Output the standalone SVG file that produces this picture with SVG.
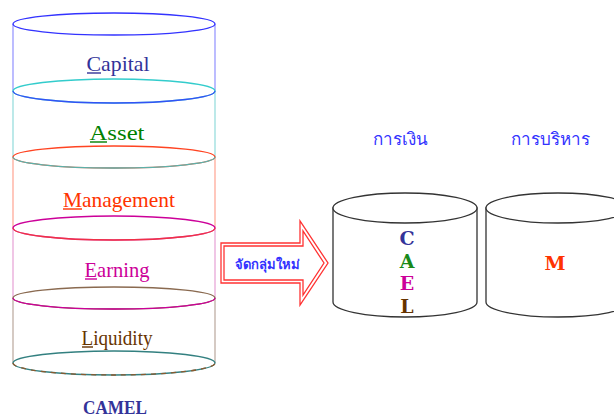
<svg xmlns="http://www.w3.org/2000/svg" width="614" height="418" viewBox="0 0 614 418">
  <style>
    .lbl { font-family: "Liberation Serif", "DejaVu Serif", serif; font-size: 22px; text-anchor: middle; }
    .ul { stroke-width: 1.4; }
    .thai { font-family: "Noto Sans", "DejaVu Sans", sans-serif; fill: #3333ff; text-anchor: middle; }
    .drum { fill: #ffffff; stroke: #333333; stroke-width: 1.3; }
    .ltr { font-family: "DejaVu Serif", "Liberation Serif", serif; font-weight: bold; font-size: 19px; text-anchor: middle; }
    .arrow { fill: none; stroke: #ff3333; stroke-width: 1.3; stroke-linejoin: miter; }
  </style>

  <rect width="614" height="418" fill="#ffffff"/>

  <!-- CAMEL stack: five stacked drum segments -->
  <g id="camel-stack" fill="none" stroke-width="1.3">
    <!-- Capital -->
    <g id="seg-capital">
      <line x1="13" y1="24" x2="13" y2="91" stroke="#9999ff"/>
      <line x1="215" y1="24" x2="215" y2="91" stroke="#9999ff"/>
      <ellipse cx="114" cy="24" rx="101" ry="11" stroke="#3333ff"/>
    </g>
    <!-- Asset -->
    <g id="seg-asset">
      <line x1="13" y1="91" x2="13" y2="157" stroke="#99dddd"/>
      <line x1="215" y1="91" x2="215" y2="157" stroke="#99dddd"/>
      <ellipse cx="114" cy="91" rx="101" ry="12" stroke="#33cccc"/>
      <path d="M13 91 A101 12 0 0 0 215 91" stroke="#3333ff" stroke-opacity="0.8"/>
    </g>
    <!-- Management -->
    <g id="seg-management">
      <line x1="13" y1="157" x2="13" y2="228" stroke="#ffaa99"/>
      <line x1="215" y1="157" x2="215" y2="228" stroke="#ffaa99"/>
      <ellipse cx="114" cy="157" rx="101" ry="11" stroke="#ff4422"/>
      <path d="M13 157 A101 11 0 0 0 215 157" stroke="#33cccc" stroke-opacity="0.8"/>
    </g>
    <!-- Earning -->
    <g id="seg-earning">
      <line x1="13" y1="228" x2="13" y2="298" stroke="#e8a8d8"/>
      <line x1="215" y1="228" x2="215" y2="298" stroke="#e8a8d8"/>
      <ellipse cx="114" cy="228" rx="101" ry="12" stroke="#cc0099"/>
      <path d="M13 228 A101 12 0 0 0 215 228" stroke="#ff4422" stroke-opacity="0.7"/>
    </g>
    <!-- Liquidity -->
    <g id="seg-liquidity">
      <line x1="13" y1="298" x2="13" y2="363" stroke="#bfaea4"/>
      <line x1="215" y1="298" x2="215" y2="363" stroke="#bfaea4"/>
      <ellipse cx="114" cy="298" rx="101" ry="11" stroke="#8a6a50"/>
      <path d="M13 298 A101 11 0 0 0 215 298" stroke="#cc0099"/>
      <ellipse cx="114" cy="363" rx="101" ry="12" stroke="#338080"/>
      <path d="M13 363 A101 12 0 0 0 215 363" stroke="#8a5a30" stroke-dasharray="5 5"/>
    </g>
  </g>

  <!-- segment labels; the initial letter of each carries an underline -->
  <g id="stack-labels" class="lbl">
    <text x="118" y="71" fill="#333399" textLength="63" lengthAdjust="spacingAndGlyphs">Capital</text>
    <line class="ul" x1="87" y1="73" x2="101" y2="73" stroke="#333399"/>
    <text x="117" y="140" fill="#008000" textLength="55" lengthAdjust="spacingAndGlyphs">Asset</text>
    <line class="ul" x1="90" y1="142" x2="107" y2="142" stroke="#008000"/>
    <text x="119" y="207" fill="#ff3300" textLength="112" lengthAdjust="spacingAndGlyphs">Management</text>
    <line class="ul" x1="63" y1="209" x2="82" y2="209" stroke="#ff3300"/>
    <text x="117" y="277" fill="#cc0099" textLength="65" lengthAdjust="spacingAndGlyphs">Earning</text>
    <line class="ul" x1="85" y1="279" x2="97" y2="279" stroke="#cc0099"/>
    <text x="117" y="345" fill="#663300" textLength="71" lengthAdjust="spacingAndGlyphs">Liquidity</text>
    <line class="ul" x1="82" y1="347" x2="93" y2="347" stroke="#663300"/>
    <text x="115" y="414" fill="#333399" font-weight="bold" font-size="18" textLength="64" lengthAdjust="spacingAndGlyphs">CAMEL</text>
  </g>

  <!-- regroup arrow (double outline) -->
  <g id="regroup-arrow">
    <polygon class="arrow" points="221,243 300,243 300,221 328,263 300,305 300,283 221,283"/>
    <polygon class="arrow" stroke="#ff7766" points="224,246 303,246 303,231 324,263 303,295 303,280 224,280"/>
    <text class="thai" x="267" y="269" font-size="13" font-weight="bold">จัดกลุ่มใหม่</text>
  </g>

  <!-- finance drum -->
  <g id="finance">
    <text class="thai" x="400" y="145" font-size="17">การเงิน</text>
    <path class="drum" d="M333 208 L333 302 A72 15 0 0 0 477 302 L477 208 Z"/>
    <ellipse class="drum" cx="405" cy="208" rx="72" ry="15"/>
    <text class="ltr" x="407" y="245" fill="#333399">C</text>
    <text class="ltr" x="407" y="268" fill="#1a8a1a">A</text>
    <text class="ltr" x="407" y="290" fill="#cc0099">E</text>
    <text class="ltr" x="407" y="313" fill="#663300">L</text>
  </g>

  <!-- management drum -->
  <g id="management">
    <text class="thai" x="550" y="145" font-size="17">การบริหาร</text>
    <path class="drum" d="M486 208 L486 302 A72 15 0 0 0 630 302 L630 208 Z"/>
    <ellipse class="drum" cx="558" cy="208" rx="72" ry="15"/>
    <text class="ltr" x="555" y="270" fill="#ff3300">M</text>
  </g>
</svg>
